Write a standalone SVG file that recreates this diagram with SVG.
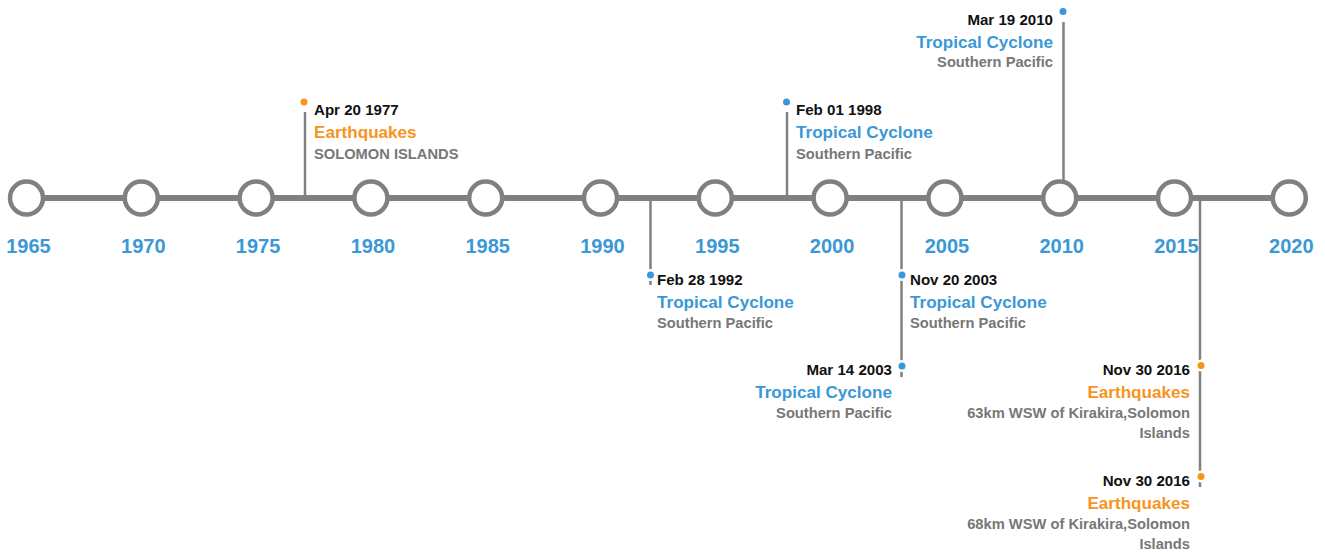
<svg xmlns="http://www.w3.org/2000/svg" width="1325" height="554" viewBox="0 0 1325 554">
<style>
text{font-family:"Liberation Sans",Arial,Helvetica,sans-serif;font-weight:bold}
.yr{font-size:20px;fill:#3a98d6;text-anchor:middle}
.dt{font-size:15.1px;fill:#111}
.tc{font-size:17.1px;fill:#3a98d6}
.eq{font-size:17.1px;fill:#f7941e}
.sb{font-size:14.7px;fill:#777}
.end{text-anchor:end}
.stem{stroke:#808080;stroke-width:2.5;fill:none}
.tick{fill:#fff;stroke:#808080;stroke-width:4.5}
.db{fill:#3a98d6;stroke:#fff;stroke-width:5;paint-order:stroke fill}
.do{fill:#f7941e;stroke:#fff;stroke-width:5;paint-order:stroke fill}
</style>
<g id="connectors">
<line x1="26.5" y1="198" x2="1290" y2="198" stroke="#808080" stroke-width="6"/>
<line class="stem" x1="305" y1="112" x2="305" y2="198"/>
<line class="stem" x1="650.5" y1="198" x2="650.5" y2="285"/>
<line class="stem" x1="787" y1="112" x2="787" y2="198"/>
<line class="stem" x1="901.5" y1="198" x2="901.5" y2="377"/>
<line class="stem" x1="1063.5" y1="22" x2="1063.5" y2="198"/>
<line class="stem" x1="1200" y1="198" x2="1200" y2="487"/>
</g>
<g id="axis-ticks">
<g id="y1965"><circle class="tick" cx="26.5" cy="198" r="16.5"/><text class="yr" x="28.5" y="253">1965</text></g>
<g id="y1970"><circle class="tick" cx="141.3" cy="198" r="16.5"/><text class="yr" x="143.3" y="253">1970</text></g>
<g id="y1975"><circle class="tick" cx="256.1" cy="198" r="16.5"/><text class="yr" x="258.1" y="253">1975</text></g>
<g id="y1980"><circle class="tick" cx="370.9" cy="198" r="16.5"/><text class="yr" x="372.9" y="253">1980</text></g>
<g id="y1985"><circle class="tick" cx="485.7" cy="198" r="16.5"/><text class="yr" x="487.7" y="253">1985</text></g>
<g id="y1990"><circle class="tick" cx="600.5" cy="198" r="16.5"/><text class="yr" x="602.5" y="253">1990</text></g>
<g id="y1995"><circle class="tick" cx="715.3" cy="198" r="16.5"/><text class="yr" x="717.3" y="253">1995</text></g>
<g id="y2000"><circle class="tick" cx="830.1" cy="198" r="16.5"/><text class="yr" x="832.1" y="253">2000</text></g>
<g id="y2005"><circle class="tick" cx="944.9" cy="198" r="16.5"/><text class="yr" x="946.9" y="253">2005</text></g>
<g id="y2010"><circle class="tick" cx="1059.7" cy="198" r="16.5"/><text class="yr" x="1061.7" y="253">2010</text></g>
<g id="y2015"><circle class="tick" cx="1174.5" cy="198" r="16.5"/><text class="yr" x="1176.5" y="253">2015</text></g>
<g id="y2020"><circle class="tick" cx="1289.3" cy="198" r="16.5"/><text class="yr" x="1291.3" y="253">2020</text></g>
</g>
<g id="ev1977">
<circle class="do" cx="304" cy="102" r="3.5"/>
<text class="dt" x="314" y="115">Apr 20 1977</text>
<text class="eq" x="314" y="138">Earthquakes</text>
<text class="sb" x="314" y="159">SOLOMON ISLANDS</text>
</g>
<g id="ev1992">
<circle class="db" cx="650.5" cy="275" r="3.5"/>
<text class="dt" x="657" y="285">Feb 28 1992</text>
<text class="tc" x="657" y="308">Tropical Cyclone</text>
<text class="sb" x="657" y="328">Southern Pacific</text>
</g>
<g id="ev1998">
<circle class="db" cx="786.5" cy="102" r="3.5"/>
<text class="dt" x="796" y="115">Feb 01 1998</text>
<text class="tc" x="796" y="138">Tropical Cyclone</text>
<text class="sb" x="796" y="159">Southern Pacific</text>
</g>
<g id="ev2003a">
<circle class="db" cx="902" cy="275" r="3.5"/>
<text class="dt" x="910" y="285">Nov 20 2003</text>
<text class="tc" x="910" y="308">Tropical Cyclone</text>
<text class="sb" x="910" y="328">Southern Pacific</text>
</g>
<g id="ev2003b">
<circle class="db" cx="902" cy="366" r="3.5"/>
<text class="dt end" x="892" y="375">Mar 14 2003</text>
<text class="tc end" x="892" y="398">Tropical Cyclone</text>
<text class="sb end" x="892" y="418">Southern Pacific</text>
</g>
<g id="ev2010">
<circle class="db" cx="1063" cy="11.5" r="3.5"/>
<text class="dt end" x="1053" y="25">Mar 19 2010</text>
<text class="tc end" x="1053" y="48">Tropical Cyclone</text>
<text class="sb end" x="1053" y="67">Southern Pacific</text>
</g>
<g id="ev2016a">
<circle class="do" cx="1201" cy="365.5" r="3.5"/>
<text class="dt end" x="1190" y="375">Nov 30 2016</text>
<text class="eq end" x="1190" y="398">Earthquakes</text>
<text class="sb end" x="1190" y="418">63km WSW of Kirakira,Solomon</text>
<text class="sb end" x="1190" y="438">Islands</text>
</g>
<g id="ev2016b">
<circle class="do" cx="1201" cy="476.5" r="3.5"/>
<text class="dt end" x="1190" y="486">Nov 30 2016</text>
<text class="eq end" x="1190" y="509">Earthquakes</text>
<text class="sb end" x="1190" y="529">68km WSW of Kirakira,Solomon</text>
<text class="sb end" x="1190" y="549">Islands</text>
</g>
</svg>
